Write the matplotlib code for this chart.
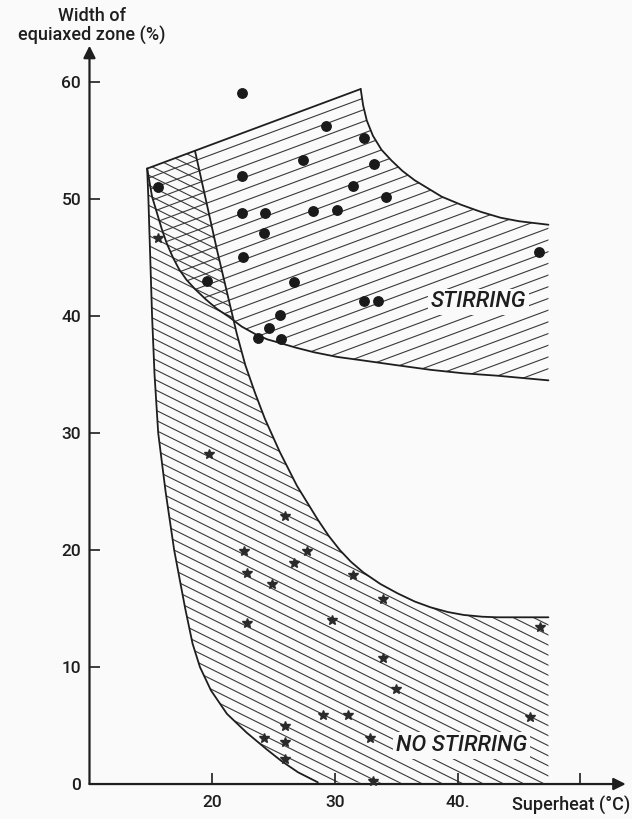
import numpy as np
import matplotlib
matplotlib.use("Agg")
import matplotlib.pyplot as plt
from matplotlib.patches import Polygon
from matplotlib.collections import LineCollection

plt.rcParams["font.family"] = ["Roboto", "Liberation Sans", "DejaVu Sans"]

BG = "#fafafa"
INK = "#1e1e1e"

# Stirring zone outline
stir_top_x = [14.7, 32.1]
stir_top_y = [52.6, 59.4]
stir_right_x = [32.1, 32.3, 32.6, 33.1, 33.8, 34.6, 35.5, 36.5, 37.6, 38.7, 40.3, 41.9, 43.5, 45.0, 47.4]
stir_right_y = [59.4, 58.0, 56.7, 55.4, 54.2, 53.3, 52.4, 51.6, 50.9, 50.2, 49.5, 48.9, 48.4, 48.1, 47.8]
stir_bottom_x = [47.4, 45.3, 43.2, 40.5, 37.8, 35.0, 32.3, 30.2, 28.3, 26.8, 25.5, 24.5, 23.6,
                 22.4, 21.4, 20.4, 19.5, 18.6, 17.9, 17.3, 16.8, 16.3, 15.9, 15.5, 15.1, 14.9, 14.7]
stir_bottom_y = [34.5, 34.7, 34.9, 35.1, 35.4, 35.8, 36.2, 36.5, 36.9, 37.3, 37.7, 38.0, 38.4,
                 39.1, 39.9, 40.6, 41.4, 42.3, 43.1, 44.0, 45.0, 46.2, 47.4, 48.8, 50.2, 51.4, 52.6]

# No stirring zone outline
ns_left_x = [14.7, 14.8, 14.95, 15.1, 15.3, 15.6, 16.2, 16.9, 17.8, 18.4, 19.0, 19.9, 21.2,
             22.8, 24.4, 25.6, 27.0, 28.6]
ns_left_y = [52.6, 50.0, 45.0, 40.0, 35.0, 30.0, 25.0, 20.0, 15.0, 12.0, 10.0, 8.0, 6.0,
             4.4, 3.0, 2.0, 1.0, 0.15]
ns_right_x = [18.6, 20.4, 22.0, 22.7, 23.5, 24.3, 25.5, 26.9, 28.6, 29.5, 30.4, 31.3, 32.3,
              33.7, 35.1, 36.5, 37.8, 39.2, 40.5, 42.0, 43.2, 47.4]
ns_right_y = [54.1, 45.6, 38.5, 35.8, 33.4, 31.2, 28.4, 25.5, 22.6, 21.2, 20.0, 19.0, 18.1,
              17.1, 16.3, 15.6, 15.1, 14.7, 14.45, 14.3, 14.25, 14.25]

# Measured points, with stirring (dots)
stir_x = [22.4, 15.6, 22.4, 27.4, 29.3, 32.4, 33.2, 31.5, 34.2, 22.4, 24.3, 28.2, 30.2,
          24.2, 22.5, 19.6, 26.7, 32.4, 33.5, 25.5, 24.6, 23.7, 25.6, 46.6]
stir_y = [59.1, 51.0, 52.0, 53.3, 56.2, 55.2, 53.0, 51.1, 50.2, 48.8, 48.8, 49.0, 49.1,
          47.1, 45.0, 43.0, 42.9, 41.3, 41.3, 40.1, 39.0, 38.1, 38.0, 45.5]

# Measured points, no stirring (stars)
nostir_x = [15.6, 19.7, 25.9, 22.6, 27.7, 26.7, 22.8, 24.9, 31.5, 33.9, 22.8, 29.8, 33.9,
            35.0, 29.0, 31.1, 25.9, 24.2, 25.9, 32.9, 25.9, 33.1, 46.7, 45.9]
nostir_y = [46.7, 28.2, 22.9, 19.9, 19.9, 18.9, 18.0, 17.1, 17.9, 15.8, 13.8, 14.0, 10.8,
            8.1, 5.9, 5.9, 5.0, 3.9, 3.6, 3.9, 2.1, 0.3, 13.4, 5.7]

x_ticks = [20, 30, 40, 50]
x_tick_labels = ["20", "30", "40.", ""]
y_ticks = [0, 10, 20, 30, 40, 50, 60]
y_tick_labels = ["0", "10", "20", "30", "40", "50", "60"]


def hatch_region(ax, xs, ys, slope, spacing):
    # parallel lines clipped to the polygon (xs, ys)
    patch = Polygon(np.column_stack([xs, ys]), closed=True,
                    facecolor="none", edgecolor="none")
    ax.add_patch(patch)
    xs = np.asarray(xs)
    ys = np.asarray(ys)
    c = ys - slope * xs
    segs = []
    for ci in np.arange(c.min() - spacing, c.max() + spacing, spacing):
        segs.append([(5, ci + slope * 5), (55, ci + slope * 55)])
    lc = LineCollection(segs, colors="#3a3a3a", linewidths=0.8, zorder=1)
    ax.add_collection(lc)
    lc.set_clip_path(patch)


fig = plt.figure(figsize=(6.32, 8.19), dpi=100, facecolor=BG)
ax = fig.add_axes([0.1416, 0.0427, 0.8543, 0.9072])
ax.set_facecolor(BG)
ax.set_xlim(10, 54)
ax.set_ylim(0, 63.5)

# hatching: stirring lines rise to the right, no stirring lines fall
stir_poly_x = stir_top_x + stir_right_x[1:] + stir_bottom_x[:-1]
stir_poly_y = stir_top_y + stir_right_y[1:] + stir_bottom_y[:-1]
hatch_region(ax, stir_poly_x, stir_poly_y, 0.39, 1.0)

ns_poly_x = ns_right_x + [47.4] + ns_left_x[::-1]
ns_poly_y = ns_right_y + [0.0] + ns_left_y[::-1]
hatch_region(ax, ns_poly_x, ns_poly_y, -0.52, 0.86)

# outlines
for xs, ys in [(stir_top_x, stir_top_y), (stir_right_x, stir_right_y),
               (stir_bottom_x, stir_bottom_y), (ns_left_x, ns_left_y),
               (ns_right_x, ns_right_y)]:
    ax.plot(xs, ys, color=INK, lw=1.3, zorder=3, solid_capstyle="round",
            solid_joinstyle="round")

ax.plot(stir_x, stir_y, "o", color="#1a1a1a", ms=6.8, zorder=4, clip_on=False)
ax.plot(nostir_x, nostir_y, "*", color="#2a2a2a", ms=7, zorder=4, clip_on=False)

ax.text(41.7, 41.2, "STIRRING", fontsize=16, style="italic", fontweight="medium",
        color=INK, ha="center", va="center", zorder=5,
        bbox=dict(facecolor=BG, edgecolor="none", pad=2))
ax.text(40.3, 3.3, "NO STIRRING", fontsize=16, style="italic", fontweight="medium",
        color=INK, ha="center", va="center", zorder=5,
        bbox=dict(facecolor=BG, edgecolor="none", pad=2))

# axes drawn as arrows
for s in ax.spines.values():
    s.set_visible(False)
ax.annotate("", xy=(53.7, 0), xytext=(10, 0), annotation_clip=False,
            arrowprops=dict(arrowstyle="-|>", color=INK, lw=1.6, mutation_scale=18,
                            shrinkA=0, shrinkB=0))
ax.annotate("", xy=(10, 63.1), xytext=(10, 0), annotation_clip=False,
            arrowprops=dict(arrowstyle="-|>", color=INK, lw=1.6, mutation_scale=18,
                            shrinkA=0, shrinkB=0))

ax.set_xticks(x_ticks)
ax.set_xticklabels(x_tick_labels, fontweight="medium")
ax.set_yticks(y_ticks)
ax.set_yticklabels(y_tick_labels, fontweight="medium")
ax.tick_params(axis="both", direction="in", length=8, width=1.2, color=INK,
               labelcolor=INK, labelsize=12.5)
ax.tick_params(axis="x", pad=8)
ax.tick_params(axis="y", pad=6)

ax.text(10.2, 64.8, "Width of\nequiaxed zone (%)", fontsize=13, color=INK,
        fontweight="medium", ha="center", va="center", linespacing=1.1)
ax.text(54.1, -1.8, "Superheat (\u00b0C)", fontsize=13, color=INK,
        fontweight="medium", ha="right", va="center")

fig.savefig("out.png", dpi=100, facecolor=BG)
